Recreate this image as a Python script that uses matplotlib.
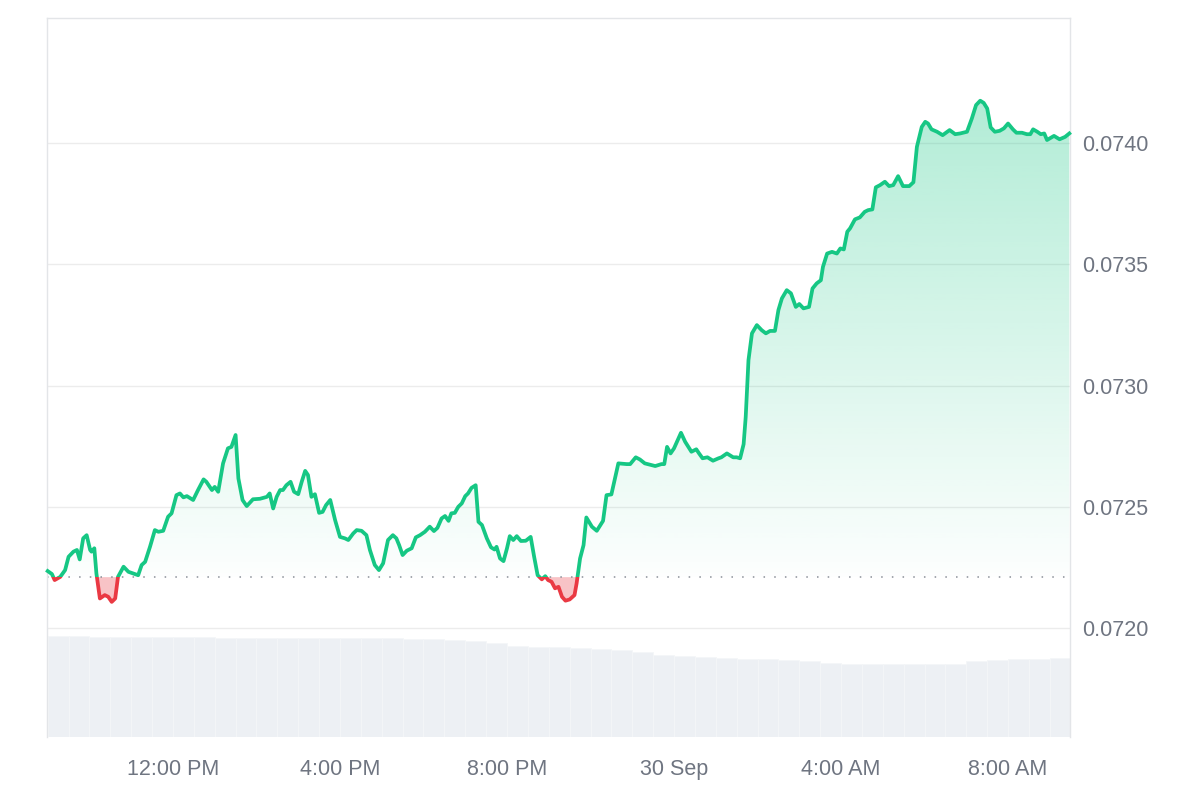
import numpy as np
import matplotlib.pyplot as plt
from matplotlib.colors import to_rgb
from matplotlib.patches import Rectangle

plt.rcParams['font.family'] = ['Liberation Sans', 'DejaVu Sans']

# minutes since 9:00 AM, 29 Sep
minutes = [0, 6, 10, 18, 25, 30, 37, 42, 46, 51, 56, 61, 63, 67, 70, 75, 82, 87, 92, 97,
           101, 109, 116, 123, 130, 135, 140, 147, 154, 159, 166, 173, 178, 185, 190, 195,
           200, 209, 216, 224, 228, 236, 240, 245, 252, 259, 264, 270, 274, 280, 286, 295,
           305, 315, 319, 324, 329, 334, 338, 343, 349, 354, 360, 365, 370, 374, 379, 384,
           390, 395, 400, 406, 413, 420, 427, 432, 439, 444, 451, 458, 463, 470, 476, 482,
           489, 496, 501, 505, 510, 516, 523, 529, 535, 542, 549, 555, 560, 566, 571, 576,
           580, 585, 590, 595, 600, 604, 609, 615, 619, 624, 631, 637, 642, 645, 650, 655,
           660, 664, 669, 674, 680, 687, 694, 699, 704, 710, 715, 719, 724, 729, 734, 739,
           744, 750, 757, 760, 765, 770, 774, 782, 789, 798, 803, 810, 820, 832, 837, 845,
           851, 858, 873, 882, 886, 890, 895, 900, 910, 916, 925, 932, 936, 941, 948, 956,
           964, 968, 976, 985, 990, 995, 1000, 1003, 1007, 1012, 1019, 1026, 1032, 1038,
           1045, 1050, 1055, 1062, 1068, 1075, 1080, 1086, 1094, 1099, 1105, 1111, 1114,
           1120, 1127, 1134, 1139, 1144, 1149, 1153, 1160, 1167, 1174, 1179, 1185, 1190,
           1196, 1203, 1209, 1215, 1222, 1229, 1238, 1244, 1249, 1256, 1261, 1265, 1270,
           1278, 1286, 1296, 1304, 1311, 1321, 1328, 1334, 1340, 1345, 1350, 1355, 1361,
           1368, 1374, 1380, 1387, 1392, 1400, 1407, 1412, 1416, 1422, 1427, 1432, 1436,
           1440, 1446, 1454, 1462, 1468]

price = [0.072235, 0.072223, 0.072198, 0.072211, 0.072239, 0.072294, 0.072315, 0.072322,
         0.072283, 0.072370, 0.072383, 0.072322, 0.072315, 0.072329, 0.072225, 0.072122,
         0.072136, 0.072129, 0.072108, 0.072122, 0.072211, 0.072253, 0.072232, 0.072225,
         0.072218, 0.072260, 0.072273, 0.072335, 0.072404, 0.072397, 0.072401, 0.072459,
         0.072473, 0.072548, 0.072555, 0.072539, 0.072544, 0.072528, 0.072569, 0.072613,
         0.072603, 0.072569, 0.072582, 0.072562, 0.072679, 0.072741, 0.072747, 0.072796,
         0.072617, 0.072528, 0.072503, 0.072531, 0.072533, 0.072541, 0.072555, 0.072493,
         0.072541, 0.072569, 0.072569, 0.072589, 0.072603, 0.072562, 0.072552, 0.072603,
         0.072648, 0.072631, 0.072541, 0.072552, 0.072475, 0.072479, 0.072507, 0.072528,
         0.072445, 0.072376, 0.072370, 0.072363, 0.072390, 0.072404, 0.072401, 0.072383,
         0.072322, 0.072260, 0.072239, 0.072267, 0.072363, 0.072383, 0.072370, 0.072342,
         0.072301, 0.072319, 0.072329, 0.072374, 0.072383, 0.072397, 0.072418, 0.072400,
         0.072413, 0.072452, 0.072462, 0.072442, 0.072473, 0.072475, 0.072500, 0.072514,
         0.072544, 0.072555, 0.072578, 0.072589, 0.072438, 0.072425, 0.072370, 0.072333,
         0.072324, 0.072335, 0.072287, 0.072276, 0.072329, 0.072379, 0.072363, 0.072379,
         0.072359, 0.072360, 0.072376, 0.072294, 0.072218, 0.072201, 0.072214, 0.072198,
         0.072191, 0.072164, 0.072170, 0.072129, 0.072113, 0.072118, 0.072136, 0.072184,
         0.072287, 0.072342, 0.072456, 0.072418, 0.072401, 0.072442, 0.072548, 0.072551,
         0.072679, 0.072676, 0.072676, 0.072704, 0.072695, 0.072679, 0.072668, 0.072676,
         0.072676, 0.072747, 0.072720, 0.072741, 0.072805, 0.072768, 0.072727, 0.072737,
         0.072720, 0.072700, 0.072704, 0.072690, 0.072700, 0.072704, 0.072720, 0.072704,
         0.072704, 0.072700, 0.072758, 0.072870, 0.073105, 0.073215, 0.073249, 0.073228,
         0.073215, 0.073225, 0.073225, 0.073311, 0.073359, 0.073393, 0.073380, 0.073324,
         0.073336, 0.073318, 0.073324, 0.073400, 0.073421, 0.073434, 0.073489, 0.073544,
         0.073551, 0.073544, 0.073565, 0.073561, 0.073634, 0.073648, 0.073685, 0.073693,
         0.073716, 0.073723, 0.073726, 0.073817, 0.073826, 0.073840, 0.073822, 0.073826,
         0.073863, 0.073822, 0.073822, 0.073838, 0.073984, 0.074066, 0.074087, 0.074080,
         0.074056, 0.074046, 0.074032, 0.074053, 0.074036, 0.074039, 0.074046, 0.074101,
         0.074156, 0.074174, 0.074165, 0.074142, 0.074064, 0.074046, 0.074050, 0.074060,
         0.074080, 0.074056, 0.074042, 0.074042, 0.074036, 0.074036, 0.074056, 0.074046,
         0.074036, 0.074039, 0.074012, 0.074019, 0.074029, 0.074015, 0.074025, 0.074039]

base_price = 0.07221

# 24h volume (millions), one value per 30 minutes
volume = [505, 505, 500, 500, 500, 500, 500, 500, 495, 495, 495, 495, 495, 495, 495, 495,
          495, 490, 490, 485, 480, 470, 455, 450, 450, 445, 440, 435, 425, 410, 405, 400,
          395, 390, 390, 385, 380, 370, 365, 365, 365, 365, 365, 365, 380, 385, 390, 390, 395]

tick_pos = [180, 420, 660, 900, 1140, 1380]
tick_labels = ['12:00 PM', '4:00 PM', '8:00 PM', '30 Sep', '4:00 AM', '8:00 AM']
y_ticks = [0.0720, 0.0725, 0.0730, 0.0735, 0.0740]

t = np.array(minutes, dtype=float)
p = np.array(price)
vol_t = np.arange(len(volume)) * 30 + 15

green = '#16c784'
red = '#ea3943'
xlim = (-1, 1469)
ylim = (0.071551, 0.074515)

fig = plt.figure(figsize=(12, 8), dpi=100)
rect = [47 / 1200, 63 / 800, 1023 / 1200, 719 / 800]

# volume bars in the background
ax_v = fig.add_axes(rect, zorder=0)
ax_v.bar(vol_t, volume, width=30, color='#edf0f4', edgecolor='#f4f6f8', linewidth=0.6)
ax_v.set_xlim(*xlim)
ax_v.set_ylim(0, 3595)
ax_v.axis('off')

ax = fig.add_axes(rect, zorder=1)
ax.patch.set_alpha(0)

# gradient fill above the baseline
poly = ax.fill_between(t, p, base_price, color='none', linewidth=0)
clip = poly.get_paths()[0]
grad = np.zeros((256, 1, 4))
grad[..., :3] = to_rgb(green)
grad[:, 0, 3] = np.linspace(0.33, 0.01, 256)
im = ax.imshow(grad, extent=[t[0], t[-1], base_price, p.max()], aspect='auto',
               origin='upper', zorder=1)
im.set_clip_path(clip, transform=ax.transData)

# red fill below the baseline
ax.fill_between(t, p, base_price, where=p < base_price, interpolate=True,
                color=red, alpha=0.3, linewidth=0, zorder=1)

ax.axhline(base_price, color='#8a8f98', lw=1.1, linestyle=(0, (1, 6)), zorder=2)

up, = ax.plot(t, p, color=green, lw=2.7, solid_joinstyle='round', zorder=3)
up.set_clip_path(Rectangle((-100, base_price), 2000, 1, transform=ax.transData))
down, = ax.plot(t, p, color=red, lw=2.7, solid_joinstyle='round', zorder=3)
down.set_clip_path(Rectangle((-100, base_price - 1), 2000, 1, transform=ax.transData))

ax.set_xlim(*xlim)
ax.set_ylim(*ylim)
ax.set_xticks(tick_pos)
ax.set_xticklabels(tick_labels)
ax.set_yticks(y_ticks)
ax.set_yticklabels(['%.4f' % v for v in y_ticks])
ax.yaxis.tick_right()
ax.yaxis.grid(True, color='#ececec', lw=1)
ax.set_axisbelow(True)
ax.tick_params(axis='both', length=0, labelsize=15.5, labelcolor='#6f7581')
ax.tick_params(axis='y', pad=9)
ax.tick_params(axis='x', pad=16)

ax.spines['bottom'].set_visible(False)
for s in ['top', 'left', 'right']:
    ax.spines[s].set_color('#e3e5e8')
    ax.spines[s].set_linewidth(1)

fig.savefig('out.png', dpi=100)
